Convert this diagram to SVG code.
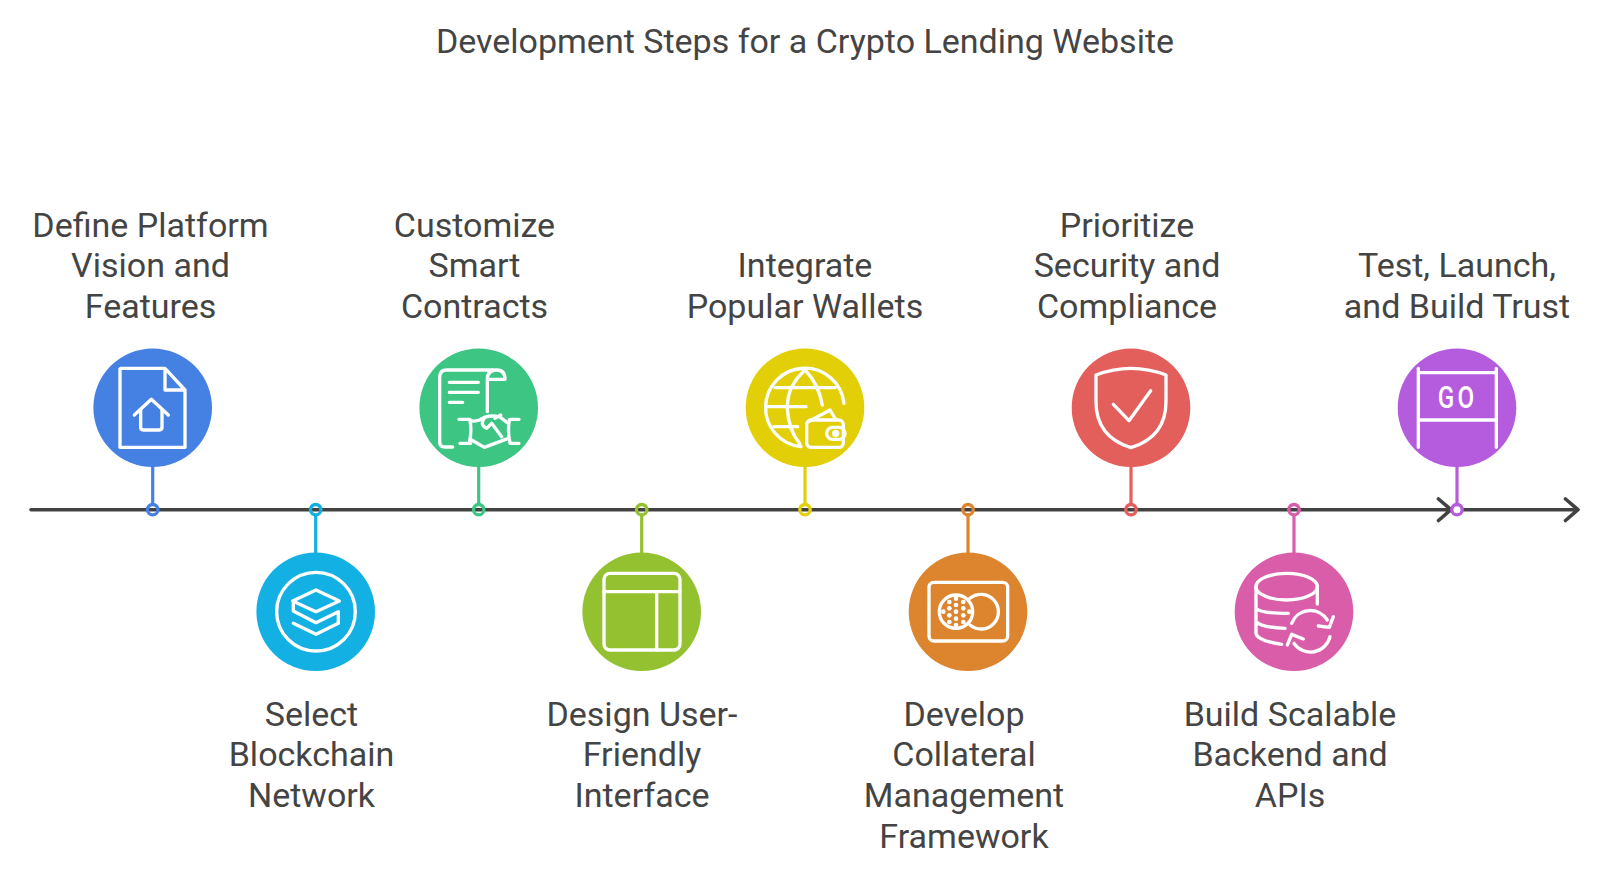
<svg xmlns="http://www.w3.org/2000/svg" width="1600" height="877" viewBox="0 0 1600 877">
<style>
text{font-family:Roboto,"Liberation Sans",sans-serif;font-size:34px;fill:#444;text-anchor:middle}
.i{fill:none;stroke:#fff;stroke-width:10;stroke-linecap:round;stroke-linejoin:round}
.d{fill:#fff;stroke:none}
.c{fill:none;stroke-width:3.200}
.r{fill:none;stroke-width:3.400}
.a{fill:none;stroke:#424242;stroke-width:3.600;stroke-linecap:round;stroke-linejoin:round}
</style>
<rect width="1600" height="877" fill="#fff"/>
<text id="title" x="805" y="52.800">Development Steps for a Crypto Lending Website</text>
<g id="connectors">
<path class="a" d="M31 509.700H1451M1463 509.700H1577M1438.500 499L1451 509.700L1438.500 520.500M1565.500 499L1578 509.700L1565.500 520.500"/>
<g class="c">
<path stroke="#4580e3" d="M152.700 465V504"/>
<path stroke="#13b0e4" d="M315.700 515V555"/>
<path stroke="#3cc583" d="M478.700 465V504"/>
<path stroke="#94c130" d="M641.700 515V555"/>
<path stroke="#e2cf07" d="M805 465V504"/>
<path stroke="#dd842f" d="M968 515V555"/>
<path stroke="#e25f5c" d="M1131 465V504"/>
<path stroke="#d95da9" d="M1294 515V555"/>
<path stroke="#b45bde" d="M1457 465V504"/>
</g>
</g>
<g id="node1">
<circle cx="152.700" cy="407.700" r="59.300" fill="#4580e3"/>
<circle class="r" cx="152.700" cy="509.700" r="5.200" stroke="#4580e3"/>
<g transform="translate(80 340) scale(.33333)" class="i"><path d="M122 85H255L315 150V322H120V87ZM255 85V150H315"/><path d="M163 225L214 178L265 225M182 210V262Q182 270 190 270H238Q246 270 246 262V210"/></g>
<text x="150.500" y="236.600">Define Platform<tspan x="150.500" dy="40.800">Vision and</tspan><tspan x="150.500" dy="40.800">Features</tspan></text>
</g>
<g id="node2">
<circle cx="315.700" cy="611.700" r="59.300" fill="#13b0e4"/>
<circle class="r" cx="315.700" cy="509.700" r="5.200" stroke="#13b0e4"/>
<g transform="translate(240 540) scale(.33333)" class="i"><circle cx="228" cy="215" r="118"/><path d="M228 150L298 183L228 215L158 183ZM160 185V213L228 248L295 215V250L228 283L160 250"/></g>
<text x="311.500" y="725.600">Select<tspan x="311.500" dy="40.800">Blockchain</tspan><tspan x="311.500" dy="40.800">Network</tspan></text>
</g>
<g id="node3">
<circle cx="478.700" cy="407.700" r="59.300" fill="#3cc583"/>
<circle class="r" cx="478.700" cy="509.700" r="5.200" stroke="#3cc583"/>
<g transform="translate(80 340) scale(.33333)" class="i"><path d="M1118 321H1095Q1079 321 1079 305V112Q1079 90 1100 90H1250Q1275 90 1275 118H1222V215M1222 118Q1222 90 1250 90"/><path d="M1108 127H1195M1108 157H1195M1108 187H1148"/><path d="M1137 238H1170M1140 310H1172M1170 240Q1176 275 1168 308M1290 238H1317M1290 310H1317M1288 240Q1282 275 1290 308"/><path d="M1175 243Q1195 245 1213 232Q1235 225 1258 230L1285 250M1213 235Q1198 255 1220 265L1235 250L1265 290M1175 300L1213 322L1285 295M1245 235L1262 225"/></g>
<text x="474.500" y="236.600">Customize<tspan x="474.500" dy="40.800">Smart</tspan><tspan x="474.500" dy="40.800">Contracts</tspan></text>
</g>
<g id="node4">
<circle cx="641.700" cy="611.700" r="59.300" fill="#94c130"/>
<circle class="r" cx="641.700" cy="509.700" r="5.200" stroke="#94c130"/>
<g transform="translate(240 540) scale(.33333)" class="i"><rect x="1092" y="100" width="228" height="230" rx="18"/><path d="M1092 155H1320M1250 155V330"/></g>
<text x="642" y="725.600">Design User-<tspan x="642" dy="40.800">Friendly</tspan><tspan x="642" dy="40.800">Interface</tspan></text>
</g>
<g id="node5">
<circle cx="805" cy="407.700" r="59.300" fill="#e2cf07"/>
<circle class="r" cx="805" cy="509.700" r="5.200" stroke="#e2cf07"/>
<g transform="translate(730 340) scale(.33333)" class="i"><path d="M342 190A118 118 0 1 0 213 320M225 90Q170 140 172 205Q175 270 210 312M225 90Q265 130 277 195M135 143H315M110 200H228M132 260H203"/><rect x="230" y="240" width="110" height="82" rx="14"/><path d="M235 245L300 210L318 240"/><rect x="290" y="262" width="55" height="36" rx="18"/><circle cx="317" cy="280" r="6"/></g>
<text x="805" y="276.800">Integrate<tspan x="805" dy="40.800">Popular Wallets</tspan></text>
</g>
<g id="node6">
<circle cx="968" cy="611.700" r="59.300" fill="#dd842f"/>
<circle class="r" cx="968" cy="509.700" r="5.200" stroke="#dd842f"/>
<g transform="translate(890 540) scale(.33333)"><g class="i"><rect x="117" y="127" width="236" height="176" rx="15"/><circle cx="198" cy="215" r="50"/><path d="M240 175A52 52 0 1 1 240 255"/></g>
<g class="d"><circle cx="178" cy="186" r="7"/><circle cx="198" cy="176" r="7"/><circle cx="220" cy="186" r="7"/><circle cx="178" cy="205" r="7"/><circle cx="198" cy="195" r="7"/><circle cx="220" cy="205" r="7"/><circle cx="160" cy="215" r="7"/><circle cx="238" cy="215" r="7"/><circle cx="198" cy="215" r="7"/><circle cx="178" cy="226" r="7"/><circle cx="220" cy="226" r="7"/><circle cx="198" cy="236" r="7"/><circle cx="178" cy="246" r="7"/><circle cx="220" cy="246" r="7"/><circle cx="198" cy="255" r="7"/></g></g>
<text x="964" y="725.600">Develop<tspan x="964" dy="40.800">Collateral</tspan><tspan x="964" dy="40.800">Management</tspan><tspan x="964" dy="40.800">Framework</tspan></text>
</g>
<g id="node7">
<circle cx="1131" cy="407.700" r="59.300" fill="#e25f5c"/>
<circle class="r" cx="1131" cy="509.700" r="5.200" stroke="#e25f5c"/>
<g transform="translate(730 340) scale(.33333)" class="i"><path d="M1203 85Q1150 85 1098 105V185Q1098 290 1203 323Q1308 290 1308 185V105Q1256 85 1203 85Z"/><path d="M1150 193L1197 242L1262 152"/></g>
<text x="1127" y="236.600">Prioritize<tspan x="1127" dy="40.800">Security and</tspan><tspan x="1127" dy="40.800">Compliance</tspan></text>
</g>
<g id="node8">
<circle cx="1294" cy="611.700" r="59.300" fill="#d95da9"/>
<circle class="r" cx="1294" cy="509.700" r="5.200" stroke="#d95da9"/>
<g transform="translate(890 540) scale(.33333)" class="i"><ellipse cx="1190" cy="140" rx="92" ry="40"/><path d="M1098 140V280Q1102 302 1175 313M1282 140V192M1098 205Q1112 220 1195 220M1098 245Q1112 262 1185 265"/><path d="M1205 250A60 60 0 0 1 1312 240M1285 258L1318 262L1330 230M1320 290A60 60 0 0 1 1212 310M1240 297L1205 283L1192 315"/></g>
<text x="1290" y="725.600">Build Scalable<tspan x="1290" dy="40.800">Backend and</tspan><tspan x="1290" dy="40.800">APIs</tspan></text>
</g>
<g id="node9">
<circle cx="1457" cy="407.700" r="59.300" fill="#b45bde"/>
<circle class="r" cx="1457" cy="509.700" r="5.200" stroke="#b45bde"/>
<g transform="translate(1380 340) scale(.33333)" class="i"><path d="M115 85V322M349 85V322M115 98H349M115 240H349"/></g>
<text transform="translate(1457.500 408) scale(.78 1)" x="0" y="0" style="font-size:31px;font-weight:500;fill:#fff;letter-spacing:4px">GO</text>
<text x="1457" y="276.800">Test, Launch,<tspan x="1457" dy="40.800">and Build Trust</tspan></text>
</g>
</svg>
